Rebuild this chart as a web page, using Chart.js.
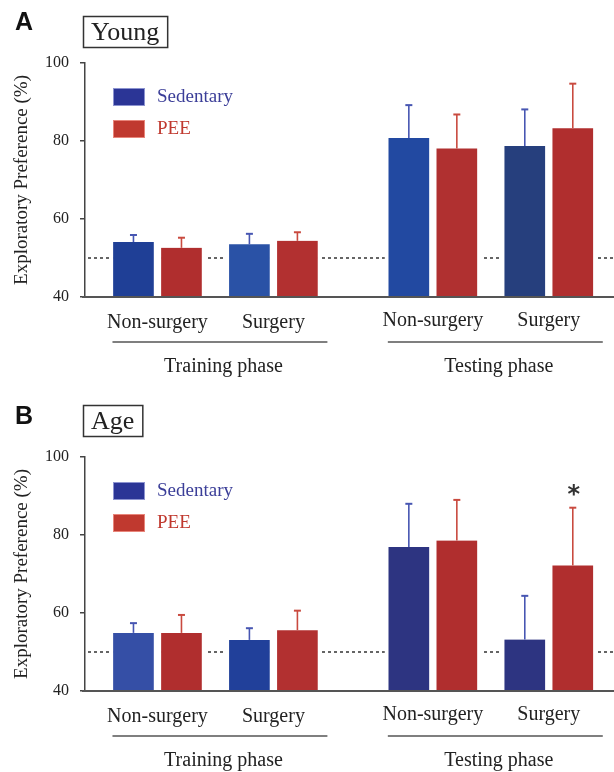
<!DOCTYPE html>
<html>
<head>
<meta charset="utf-8">
<script src="https://cdn.jsdelivr.net/npm/chart.js@4.4.1/dist/chart.umd.min.js"></script>
<style>
  html, body { margin: 0; padding: 0; background: #fff; }
  body { width: 614px; height: 772px; position: relative; overflow: hidden; }
  canvas { position: absolute; left: 0; }
  #chartA { top: 0; }
  #chartB { top: 394px; }
</style>
</head>
<body>
<canvas id="chartA" width="614" height="378"></canvas>
<canvas id="chartB" width="614" height="378"></canvas>
<script>
// Catégories et axes
const groups = ['Non-surgery', 'Surgery', 'Non-surgery', 'Surgery'];
const phases = ['Training phase', 'Testing phase'];
const seriesNames = ['Sedentary', 'PEE'];
const yTicks = [40, 60, 80, 100];
const chanceLevel = 50;

// Panel A - Young
const youngSedentary = [54.1, 53.5, 80.8, 78.7];
const youngSedentaryErr = [1.8, 2.7, 8.4, 9.4];
const youngPEE = [52.6, 54.4, 78.1, 83.3];
const youngPEEErr = [2.6, 2.2, 8.7, 11.4];
const youngMarks = ['', '', '', ''];

// Panel B - Age
const ageSedentary = [54.9, 53.1, 76.9, 53.2];
const ageSedentaryErr = [2.5, 3.0, 11.1, 11.2];
const agePEE = [54.9, 55.6, 78.6, 72.2];
const agePEEErr = [4.6, 5.0, 10.4, 14.8];
const ageMarks = ['', '', '', '*'];

// Mise en page : les groupes sont placés sur une grille de "slots"
const SLOT_COUNT = 74;
const SLOT_POS = [10, 26, 48, 64];
const SERIF = '"Liberation Serif", "Times New Roman", serif';
const SANS = '"Liberation Sans", Arial, sans-serif';

function toSlots(values) {
    const out = new Array(SLOT_COUNT).fill(null);
    values.forEach((v, i) => { out[SLOT_POS[i]] = v; });
    return out;
}

const decorPlugin = {
    id: 'decor',
    beforeDatasetsDraw(chart) {
        // ligne pointillée à 50 %
        const { ctx, chartArea, scales: { y } } = chart;
        const py = y.getPixelForValue(chanceLevel);
        ctx.save();
        ctx.strokeStyle = '#333';
        ctx.lineWidth = 1.5;
        ctx.setLineDash([3, 3]);
        ctx.beginPath();
        ctx.moveTo(chartArea.left + 3, py);
        ctx.lineTo(chartArea.right, py);
        ctx.stroke();
        ctx.restore();
    },
    afterDatasetsDraw(chart) {
        // barres d'erreur (vers le haut seulement) + astérisques
        const { ctx, chartArea, scales: { y } } = chart;
        ctx.save();
        chart.data.datasets.forEach((ds, di) => {
            const meta = chart.getDatasetMeta(di);
            meta.data.forEach((bar, i) => {
                const v = ds.data[i];
                if (v == null) return;
                const top = y.getPixelForValue(v + ds.errors[i]);
                ctx.strokeStyle = ds.errorColor;
                ctx.lineWidth = 1.6;
                ctx.beginPath();
                ctx.moveTo(bar.x, bar.y);
                ctx.lineTo(bar.x, top);
                ctx.stroke();
                ctx.lineWidth = 2;
                ctx.beginPath();
                ctx.moveTo(bar.x - 3.5, top);
                ctx.lineTo(bar.x + 3.5, top);
                ctx.stroke();
                if (ds.marks && ds.marks[i]) {
                    ctx.fillStyle = '#333';
                    ctx.font = 'bold 24px "DejaVu Sans", sans-serif';
                    ctx.textAlign = 'center';
                    ctx.textBaseline = 'middle';
                    ctx.fillText(ds.marks[i], bar.x + 1, top - 12);
                }
            });
        });
        // l'axe x repasse par-dessus les bords blancs des barres
        ctx.strokeStyle = '#555';
        ctx.lineWidth = 2;
        ctx.beginPath();
        ctx.moveTo(chartArea.left - 3, chartArea.bottom);
        ctx.lineTo(chartArea.right, chartArea.bottom);
        ctx.stroke();
        ctx.restore();
    },
    afterDraw(chart) {
        const { ctx, chartArea, scales: { x } } = chart;
        const o = chart.options.plugins.decor;
        const centers = SLOT_POS.map(p => x.getPixelForValue(p));
        ctx.save();
        ctx.fillStyle = '#222';
        ctx.textAlign = 'center';
        ctx.textBaseline = 'middle';

        // étiquettes des groupes
        ctx.font = '20px ' + SERIF;
        groups.forEach((g, i) => {
            ctx.fillText(g, centers[i], chartArea.bottom + (i < 2 ? 26 : 24));
        });

        // traits et noms de phase
        phases.forEach((p, k) => {
            const a = centers[k * 2], b = centers[k * 2 + 1];
            ctx.strokeStyle = '#555';
            ctx.lineWidth = 1.5;
            ctx.beginPath();
            ctx.moveTo(a - 45, chartArea.bottom + 45);
            ctx.lineTo(b + 54, chartArea.bottom + 45);
            ctx.stroke();
            ctx.fillText(p, (a + b) / 2 + 8, chartArea.bottom + 70);
        });

        // lettre du panneau
        ctx.textAlign = 'left';
        ctx.textBaseline = 'alphabetic';
        ctx.font = 'bold 25px ' + SANS;
        ctx.fillStyle = '#111';
        ctx.fillText(o.letter, 15, 30);

        // titre encadré
        ctx.font = '26px ' + SERIF;
        const tw = ctx.measureText(o.title).width;
        ctx.strokeStyle = '#333';
        ctx.lineWidth = 1.5;
        ctx.strokeRect(83.5, o.boxTop + 0.5, tw + 16, 31);
        ctx.fillStyle = '#222';
        ctx.textBaseline = 'middle';
        ctx.fillText(o.title, 91, o.boxTop + 17);

        // légende
        const legend = [
            { name: seriesNames[0], fill: '#2b3596', edge: '#8c93d0', text: '#3b3e98' },
            { name: seriesNames[1], fill: '#c0392f', edge: '#e8857a', text: '#c0392f' }
        ];
        ctx.font = '19px ' + SERIF;
        legend.forEach((l, i) => {
            const ly = 88 + i * 32;
            ctx.fillStyle = l.fill;
            ctx.fillRect(113, ly, 32, 18);
            ctx.strokeStyle = l.edge;
            ctx.lineWidth = 1;
            ctx.strokeRect(113.5, ly + 0.5, 31, 17);
            ctx.fillStyle = l.text;
            ctx.fillText(l.name, 157, ly + 9);
        });
        ctx.restore();
    }
};

function makePanel(canvasId, opts) {
    const ctx = document.getElementById(canvasId).getContext('2d');
    const barStyle = {
        barThickness: 48,
        borderColor: '#fff',
        borderWidth: { left: 4, right: 4, top: 0, bottom: 0 },
        borderSkipped: false
    };
    return new Chart(ctx, {
        type: 'bar',
        data: {
            labels: new Array(SLOT_COUNT).fill(''),
            datasets: [
                Object.assign({
                    label: seriesNames[0],
                    data: toSlots(opts.sed),
                    errors: toSlots(opts.sedErr),
                    backgroundColor: toSlots(opts.sedColors),
                    errorColor: '#4756b2'
                }, barStyle),
                Object.assign({
                    label: seriesNames[1],
                    data: toSlots(opts.pee),
                    errors: toSlots(opts.peeErr),
                    marks: toSlots(opts.marks),
                    backgroundColor: toSlots(opts.peeColors),
                    errorColor: '#c94a3f'
                }, barStyle)
            ]
        },
        options: {
            responsive: false,
            animation: false,
            events: [],
            layout: { padding: { top: 63, left: 0, right: 0, bottom: 0 } },
            plugins: {
                legend: { display: false },
                tooltip: { enabled: false },
                decor: { letter: opts.letter, title: opts.title, boxTop: opts.boxTop }
            },
            scales: {
                x: {
                    offset: false,
                    afterFit: s => { s.height = 81; },
                    grid: { display: false },
                    ticks: { display: false },
                    border: { color: '#555', width: 2 }
                },
                y: {
                    min: 40,
                    max: 100,
                    afterFit: s => { s.width = 85; },
                    afterBuildTicks: s => { s.ticks = yTicks.map(v => ({ value: v })); },
                    border: { color: '#444', width: 1.5 },
                    grid: { drawOnChartArea: false, tickLength: 5, color: '#444', lineWidth: 1.5 },
                    ticks: { font: { family: SERIF, size: 16 }, color: '#222', padding: 11 },
                    title: {
                        display: true,
                        text: 'Exploratory Preference (%)',
                        font: { family: SERIF, size: 19 },
                        color: '#222',
                        padding: { top: 11, bottom: 0 }
                    }
                }
            }
        },
        plugins: [decorPlugin]
    });
}

makePanel('chartA', {
    letter: 'A', title: 'Young', boxTop: 16,
    sed: youngSedentary, sedErr: youngSedentaryErr,
    pee: youngPEE, peeErr: youngPEEErr, marks: youngMarks,
    sedColors: ['#1f3f96', '#2a52a6', '#2249a1', '#263f7d'],
    peeColors: ['#b02e2e', '#b23030', '#b03030', '#b02e2e']
});

makePanel('chartB', {
    letter: 'B', title: 'Age', boxTop: 11,
    sed: ageSedentary, sedErr: ageSedentaryErr,
    pee: agePEE, peeErr: agePEEErr, marks: ageMarks,
    sedColors: ['#354fa6', '#21409a', '#2d3481', '#2d3481'],
    peeColors: ['#b02e2e', '#b23030', '#b02e2e', '#b02e2e']
});
</script>
</body>
</html>
